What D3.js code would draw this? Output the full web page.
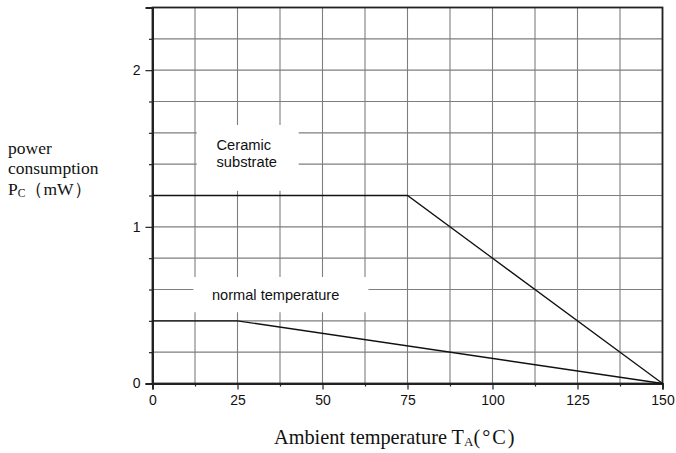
<!DOCTYPE html>
<html>
<head>
<meta charset="utf-8">
<script src="https://cdn.jsdelivr.net/npm/d3@7"></script>
<style>
  html, body { margin: 0; padding: 0; background: #fff; }
  svg { display: block; }
</style>
</head>
<body>
<svg id="chart" width="676" height="453"></svg>
<script>
// Derating curves: allowed power consumption vs ambient temperature
const ceramicTemp = [0, 75, 150];
const ceramicPower = [1.2, 1.2, 0];
const normalTemp = [0, 25, 150];
const normalPower = [0.4, 0.4, 0];

const xMajorTicks = [0, 25, 50, 75, 100, 125, 150];
const xMinorTicks = [12.5, 37.5, 62.5, 87.5, 112.5, 137.5];
const yMajorTicks = [0, 1, 2];
const yMinorTicks = [0.2, 0.4, 0.6, 0.8, 1.2, 1.4, 1.6, 1.8, 2.2];

const svg = d3.select("#chart");

const x = d3.scaleLinear().domain([0, 150]).range([152.5, 662.5]);
const y = d3.scaleLinear().domain([0, 2.4]).range([383.5, 7.5]);

const gridColor = "#7e7e7e";
const axisColor = "#222";

// grid
const grid = svg.append("g");
grid.selectAll("line.vx")
  .data(xMajorTicks.concat(xMinorTicks))
  .join("line")
  .attr("x1", d => x(d)).attr("x2", d => x(d))
  .attr("y1", y(0)).attr("y2", y(2.4))
  .attr("stroke", gridColor).attr("stroke-width", 1.1);
grid.selectAll("line.hy")
  .data(yMajorTicks.concat(yMinorTicks))
  .join("line")
  .attr("y1", d => y(d)).attr("y2", d => y(d))
  .attr("x1", x(0)).attr("x2", x(150))
  .attr("stroke", gridColor).attr("stroke-width", 1.1);

// label backgrounds that mask the grid
const labelBoxes = [
  { x0: 13, x1: 43, y0: 1.65, y1: 1.23 },
  { x0: 12, x1: 63.5, y0: 0.68, y1: 0.455 }
];
svg.append("g").selectAll("rect")
  .data(labelBoxes)
  .join("rect")
  .attr("x", d => x(d.x0)).attr("y", d => y(d.y0))
  .attr("width", d => x(d.x1) - x(d.x0))
  .attr("height", d => y(d.y1) - y(d.y0))
  .attr("fill", "#fff");

// frame
svg.append("rect")
  .attr("x", x(0)).attr("y", y(2.4))
  .attr("width", x(150) - x(0)).attr("height", y(0) - y(2.4))
  .attr("fill", "none").attr("stroke", axisColor).attr("stroke-width", 1.8);

// axes
svg.append("g").attr("transform", `translate(0,${y(0)})`)
  .call(d3.axisBottom(x).tickValues(xMajorTicks).tickSize(6).tickPadding(6).tickFormat(d3.format("d")));
svg.append("g").attr("transform", `translate(0,${y(0)})`)
  .call(d3.axisBottom(x).tickValues(xMinorTicks).tickSize(3).tickFormat(""));
svg.append("g").attr("transform", `translate(${x(0)},0)`)
  .call(d3.axisLeft(y).tickValues(yMajorTicks).tickSize(7).tickPadding(5).tickFormat(d3.format("d")));
svg.append("g").attr("transform", `translate(${x(0)},0)`)
  .call(d3.axisLeft(y).tickValues(yMinorTicks).tickSize(3.5).tickFormat(""));

svg.selectAll(".domain").attr("stroke", axisColor).attr("stroke-width", 1.8);
svg.selectAll(".tick line").attr("stroke", axisColor).attr("stroke-width", 1.2);
svg.selectAll(".tick text")
  .attr("font-family", "Arial, 'Liberation Sans', sans-serif")
  .attr("font-size", 14).attr("fill", "#111");

// curves
const line = d3.line().x(d => x(d[0])).y(d => y(d[1]));
const series = [
  d3.zip(ceramicTemp, ceramicPower),
  d3.zip(normalTemp, normalPower)
];
svg.append("g").selectAll("path")
  .data(series)
  .join("path")
  .attr("d", line)
  .attr("fill", "none")
  .attr("stroke", "#111")
  .attr("stroke-width", 1.3);

// curve labels
const sans = "Arial, 'Liberation Sans', sans-serif";
const ceramicLabel = svg.append("text")
  .attr("font-family", sans).attr("font-size", 14.7).attr("fill", "#111");
ceramicLabel.append("tspan").attr("x", 216.5).attr("y", 150).text("Ceramic");
ceramicLabel.append("tspan").attr("x", 216.5).attr("y", 166.5).text("substrate");

svg.append("text")
  .attr("x", 212).attr("y", 299.5)
  .attr("font-family", sans).attr("font-size", 14.6).attr("fill", "#111")
  .text("normal temperature");

// axis titles
const serif = "'Liberation Serif', 'Times New Roman', serif";
const yTitle = svg.append("text")
  .attr("font-family", serif).attr("font-size", 17.5).attr("fill", "#111");
yTitle.append("tspan").attr("x", 8).attr("y", 153.5).text("power");
yTitle.append("tspan").attr("x", 8).attr("y", 173.5).text("consumption");
yTitle.append("tspan").attr("x", 8).attr("y", 195).text("P");
yTitle.append("tspan").attr("font-size", 11.5).attr("dy", 2).text("C");
yTitle.append("tspan").attr("dy", -2).text("（mW）");

const xTitle = svg.append("text")
  .attr("x", 274).attr("y", 443.5)
  .attr("font-family", serif).attr("font-size", 20.3).attr("fill", "#111");
xTitle.append("tspan").text("Ambient temperature T");
xTitle.append("tspan").attr("font-size", 13).attr("dy", 2).text("A");
xTitle.append("tspan").attr("dy", -2).attr("letter-spacing", 2).text("(°C)");
</script>
</body>
</html>
